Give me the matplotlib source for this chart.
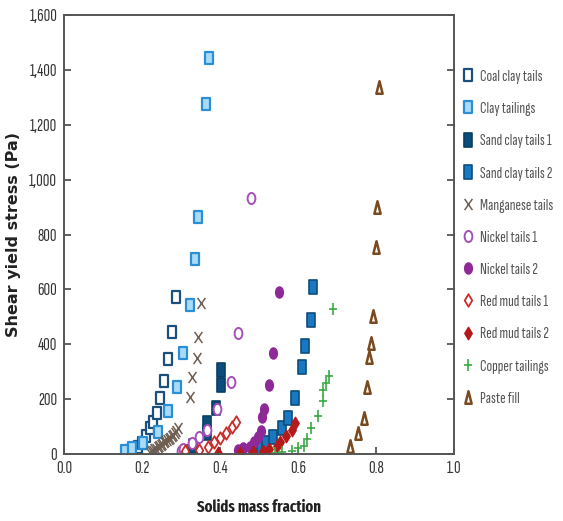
import matplotlib
matplotlib.use("Agg")
import matplotlib.pyplot as plt
from matplotlib.path import Path
from matplotlib.transforms import Affine2D
from matplotlib.ticker import StrMethodFormatter

plt.rcParams['font.family'] = ['Sofia Sans Extra Condensed', 'Fira Sans Extra Condensed', 'DejaVu Sans']

# data (solids mass fraction, shear yield stress Pa)
coal_x = [0.167, 0.177, 0.190, 0.200, 0.210, 0.221, 0.228, 0.238, 0.246, 0.256, 0.267, 0.277, 0.287]
coal_y = [11, 18, 26, 40, 66, 95, 117, 149, 204, 266, 346, 445, 572]

clay_x = [0.156, 0.174, 0.203, 0.241, 0.267, 0.290, 0.305, 0.323, 0.336, 0.344, 0.364, 0.372]
clay_y = [11, 22, 40, 80, 157, 244, 368, 543, 711, 864, 1276, 1443]

sand1_x = [0.310, 0.330, 0.367, 0.367, 0.390, 0.403, 0.403]
sand1_y = [8, 30, 77, 113, 168, 251, 306]

sand2_x = [0.490, 0.505, 0.518, 0.536, 0.559, 0.574, 0.592, 0.610, 0.618, 0.633, 0.638]
sand2_y = [15, 26, 40, 62, 95, 131, 204, 317, 394, 488, 609]

mang_x = [0.220, 0.224, 0.228, 0.232, 0.236, 0.240, 0.244, 0.248, 0.252, 0.256, 0.260,
          0.264, 0.268, 0.272, 0.276, 0.280, 0.284, 0.288, 0.293,
          0.323, 0.328, 0.341, 0.343, 0.351]
mang_y = [5, 10, 12, 18, 20, 26, 30, 33, 38, 42, 47, 50, 56, 60, 66, 70, 78, 85, 95,
          208, 281, 350, 426, 550]

nick1_x = [0.300, 0.305, 0.328, 0.345, 0.367, 0.392, 0.428, 0.446, 0.479]
nick1_y = [10, 20, 40, 62, 88, 164, 262, 441, 933]

nick2_x = [0.446, 0.459, 0.477, 0.487, 0.497, 0.505, 0.508, 0.513, 0.526, 0.536, 0.551]
nick2_y = [15, 22, 26, 44, 62, 84, 135, 164, 251, 368, 590]

red1_x = [0.310, 0.345, 0.370, 0.385, 0.400, 0.415, 0.430, 0.440]
red1_y = [10, 15, 25, 42, 60, 77, 98, 117]

red2_x = [0.395, 0.450, 0.485, 0.510, 0.526, 0.546, 0.555, 0.569, 0.585, 0.592]
red2_y = [5, 5, 8, 12, 18, 29, 44, 66, 88, 113]

copper_x = [0.540, 0.560, 0.585, 0.600, 0.615, 0.623, 0.633, 0.651, 0.664, 0.664, 0.672, 0.680, 0.690]
copper_y = [3, 8, 12, 22, 30, 55, 95, 140, 193, 235, 258, 285, 528]

paste_x = [0.733, 0.754, 0.769, 0.777, 0.782, 0.787, 0.792, 0.800, 0.803, 0.808]
paste_y = [29, 77, 131, 244, 354, 405, 503, 754, 900, 1337]


def narrow(path, sx=0.6):
    return path.transformed(Affine2D().scale(sx, 1.0))


sq = narrow(Path.unit_rectangle().transformed(Affine2D().translate(-0.5, -0.5)))
circ = narrow(Path.unit_circle(), 0.7)
diam = Path([(0, 1), (0.6, 0), (0, -1), (-0.6, 0), (0, 1)], closed=True)
tri = Path([(-0.5, -1), (0.5, -1), (0, 1), (-0.5, -1)], closed=True)
cross = Path([(-0.7, -1), (0.7, 1), (-0.7, 1), (0.7, -1)],
             [Path.MOVETO, Path.LINETO, Path.MOVETO, Path.LINETO])
plus = Path([(-0.8, 0), (0.8, 0), (0, -1), (0, 1)],
            [Path.MOVETO, Path.LINETO, Path.MOVETO, Path.LINETO])

series = [
    ("Coal clay tails", coal_x, coal_y, dict(marker=sq, mfc="white", mec="#1d4f7c", ms=8.5, mew=1.6)),
    ("Clay tailings", clay_x, clay_y, dict(marker=sq, mfc="#a9daf6", mec="#2b8fd8", ms=8.5, mew=1.6)),
    ("Sand clay tails 1", sand1_x, sand1_y, dict(marker=sq, mfc="#0c4d7c", mec="#0a3f66", ms=9.5, mew=1.2)),
    ("Sand clay tails 2", sand2_x, sand2_y, dict(marker=sq, mfc="#1a78c2", mec="#0c4d7c", ms=9.5, mew=1.2)),
    ("Manganese tails", mang_x, mang_y, dict(marker=cross, mfc="none", mec="#6e5e52", ms=8, mew=1.1)),
    ("Nickel tails 1", nick1_x, nick1_y, dict(marker=circ, mfc="white", mec="#a550b8", ms=8, mew=1.4)),
    ("Nickel tails 2", nick2_x, nick2_y, dict(marker=circ, mfc="#8e2a98", mec="#8e2a98", ms=8, mew=1.0)),
    ("Red mud tails 1", red1_x, red1_y, dict(marker=diam, mfc="white", mec="#cc2b2b", ms=9, mew=1.3)),
    ("Red mud tails 2", red2_x, red2_y, dict(marker=diam, mfc="#b51a1a", mec="#b51a1a", ms=9, mew=1.0)),
    ("Copper tailings", copper_x, copper_y, dict(marker=plus, mfc="none", mec="#3aaa45", ms=8, mew=1.2)),
    ("Paste fill", paste_x, paste_y, dict(marker=tri, mfc="white", mec="#7a4a1e", ms=9, mew=1.8)),
]

fig = plt.figure(figsize=(5.63, 5.21), dpi=100)
ax = fig.add_axes([0.1137, 0.1286, 0.6927, 0.8426])

for label, xs, ys, style in series:
    ax.plot(xs, ys, linestyle="none", label=label, **style)

ax.set_xlim(0, 1.0)
ax.set_ylim(0, 1600)
ax.set_xticks([0.0, 0.2, 0.4, 0.6, 0.8, 1.0])
ax.set_yticks(range(0, 1601, 200))
ax.xaxis.set_major_formatter(StrMethodFormatter("{x:.1f}"))
ax.yaxis.set_major_formatter(StrMethodFormatter("{x:,.0f}"))
ax.tick_params(direction="in", length=5, width=1.3, color="#555555",
               labelsize=13, labelcolor="#333333", right=True, pad=5)
for sp in ax.spines.values():
    sp.set_color("#555555")
    sp.set_linewidth(1.4)

ax.set_xlabel("Solids mass fraction", fontsize=11.5, fontweight="bold", color="#222222",
              family=["Fira Sans Extra Condensed", "DejaVu Sans"], labelpad=17)
ax.set_ylabel("Shear yield stress (Pa)", fontsize=11.5, fontweight="bold", color="#222222",
              family="DejaVu Sans")
ax.yaxis.set_label_coords(-0.11, 0.5)

leg = ax.legend(loc="center left", bbox_to_anchor=(1.02, 0.493), frameon=False,
                fontsize=12, labelspacing=1.05, handlelength=0.8, handletextpad=0.3,
                borderaxespad=0.0, borderpad=0.0)
for t in leg.get_texts():
    t.set_color("#555555")

fig.savefig("out.png", dpi=100)
